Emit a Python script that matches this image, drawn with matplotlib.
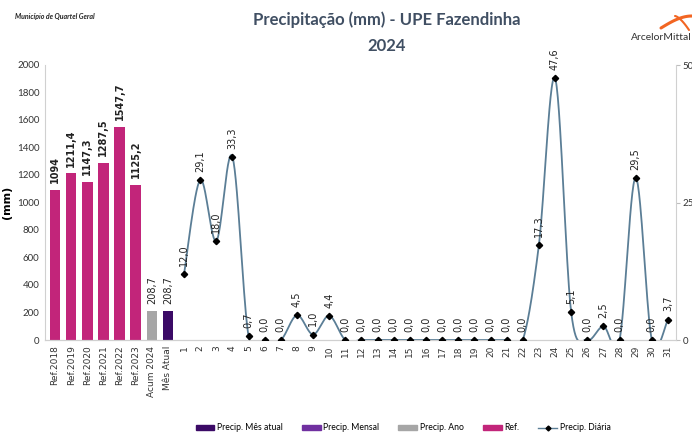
import numpy as np
import matplotlib
matplotlib.use("Agg")
import matplotlib.pyplot as plt
from matplotlib.patches import Patch
from matplotlib.lines import Line2D

# data
bar_labels = ["Ref.2018", "Ref.2019", "Ref.2020", "Ref.2021", "Ref.2022", "Ref.2023", "Acum 2024", "Mês Atual"]
bar_values = [1094, 1211.4, 1147.3, 1287.5, 1547.7, 1125.2, 208.7, 208.7]
ref_color = "#c2257a"
bar_colors = [ref_color] * 6 + ["#a6a6a6", "#3b0a66"]
days = list(range(1, 32))
daily = [12.0, 29.1, 18.0, 33.3, 0.7, 0.0, 0.0, 4.5, 1.0, 4.4,
         0.0, 0.0, 0.0, 0.0, 0.0, 0.0, 0.0, 0.0, 0.0, 0.0,
         0.0, 0.0, 17.3, 47.6, 5.1, 0.0, 2.5, 0.0, 29.5, 0.0, 3.7]


def fmt(v):
    if float(v).is_integer() and v > 100:
        return str(int(v))
    return f"{v:.1f}".replace(".", ",")


def smooth(x, y, n=30):
    # excel-like smoothed line (bezier with 1/6 tangents)
    x = np.asarray(x, float)
    y = np.asarray(y, float)
    xs, ys = [], []
    for i in range(len(x) - 1):
        p0 = np.array([x[max(i - 1, 0)], y[max(i - 1, 0)]])
        p1 = np.array([x[i], y[i]])
        p2 = np.array([x[i + 1], y[i + 1]])
        p3 = np.array([x[min(i + 2, len(x) - 1)], y[min(i + 2, len(x) - 1)]])
        c1 = p1 + (p2 - p0) / 6
        c2 = p2 - (p3 - p1) / 6
        t = np.linspace(0, 1, n)[:, None]
        pts = (1 - t) ** 3 * p1 + 3 * (1 - t) ** 2 * t * c1 + 3 * (1 - t) * t ** 2 * c2 + t ** 3 * p2
        xs.extend(pts[:, 0])
        ys.extend(pts[:, 1])
    return np.array(xs), np.array(ys)


fig = plt.figure(figsize=(6.92, 4.38), dpi=100)
ax = fig.add_axes([45 / 692, 1 - 340 / 438, (676 - 45) / 692, 275 / 438])
ax2 = ax.twinx()

nb = len(bar_values)
xb = np.arange(nb)
ax.bar(xb, bar_values, width=0.65, color=bar_colors, zorder=2)
for i, v in enumerate(bar_values):
    ax.text(xb[i], v + 50, fmt(v), rotation=90, ha="center", va="bottom",
            fontsize=7, fontweight="bold" if i < 6 else "normal", color="#222222")

ax.set_ylim(0, 2000)
ax.set_yticks(range(0, 2001, 200))
ax.set_xlim(-0.62, nb + len(days) - 0.5)
ax.set_xticks(range(nb + len(days)))
ax.set_xticklabels(bar_labels + [str(d) for d in days], rotation=90, fontsize=6.5, color="#333333")
ax.tick_params(axis="x", length=0, pad=4)
ax.tick_params(axis="y", length=0, labelsize=7, labelcolor="#333333", pad=4)
for lbl in ax.get_yticklabels():
    lbl.set_fontfamily("Lato")
ax.set_ylabel("(mm)", fontsize=8, fontweight="bold")
ax.yaxis.set_label_coords(-0.052, 0.5)

xd = np.arange(nb, nb + len(days))
sx, sy = smooth(xd, daily)
ax2.plot(sx, sy, color="#5b7e96", lw=1.3, zorder=3)
ax2.plot(xd, daily, ls="none", marker="D", ms=3.2, color="black", zorder=4)
for x, v in zip(xd, daily):
    ax2.text(x, v + 1.5, fmt(v), rotation=90, ha="center", va="bottom", fontsize=7, color="#222222")
ax2.set_ylim(0, 50)
ax2.set_yticks([0, 25, 50])
ax2.tick_params(axis="y", length=3, color="#bfbfbf", labelsize=7, labelcolor="#333333", pad=2)
for lbl in ax2.get_yticklabels():
    lbl.set_fontfamily("Lato")

for a in (ax, ax2):
    a.spines["top"].set_visible(False)
    for s in ("left", "right", "bottom"):
        a.spines[s].set_color("#d0d0d0")
ax2.spines["left"].set_visible(False)
ax.spines["right"].set_visible(False)

# titles
fig.text(387 / 692, 1 - 20 / 438, "Precipitação (mm) - UPE Fazendinha", ha="center", va="center",
         fontsize=12, fontweight="bold", color="#404f63", family="Lato")
fig.text(387 / 692, 1 - 46 / 438, "2024", ha="center", va="center",
         fontsize=12, fontweight="bold", color="#404f63", family="Lato")
fig.text(15 / 692, 1 - 17 / 438, "Município de Quartel Geral", ha="left", va="center",
         fontsize=5, fontweight="bold", style="italic", color="#222222", family="Lato")

# logo
lg = fig.add_axes([628 / 692, 1 - 46 / 438, 64 / 692, 38 / 438])
lg.set_xlim(628, 692)
lg.set_ylim(46, 8)
lg.axis("off")
t = np.linspace(0, 1, 40)
lg.plot(661 + 31 * t, 28 - 12 * np.sin(t * np.pi / 2), color="#f26522", lw=2.2, solid_capstyle="round")
lg.plot(675 + 14 * t, 16 + 14 * t ** 1.5, color="#f26522", lw=1.5, solid_capstyle="round")
lg.text(661, 38, "ArcelorMittal", ha="center", va="center", fontsize=7.5, color="#333333", family="Lato")

# legend
handles = [Patch(color="#3b0a66"), Patch(color="#7030a0"), Patch(color="#a6a6a6"), Patch(color=ref_color),
           Line2D([], [], color="#5b7e96", lw=1, marker="D", ms=2.5, mfc="black", mec="black")]
names = ["Precip. Mês atual", "Precip. Mensal", "Precip. Ano", "Ref.", "Precip. Diária"]
leg = fig.legend(handles, names, loc="center", bbox_to_anchor=(403 / 692, 1 - 428 / 438), ncol=5,
                 frameon=False, handlelength=2.2, handleheight=0.5, handletextpad=0.3,
                 columnspacing=2.2, prop={"family": "Lato", "size": 6.2})

fig.savefig("out.png", dpi=100)
